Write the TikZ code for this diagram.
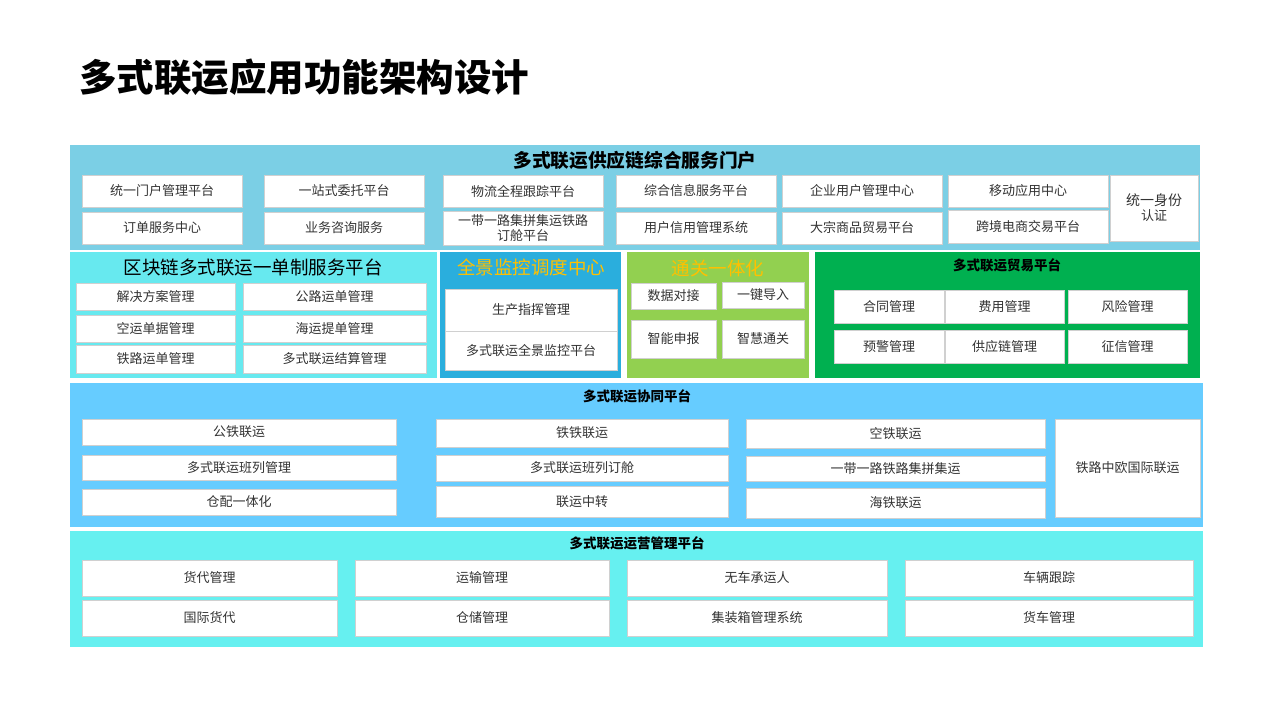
\documentclass[tikz,border=0pt]{standalone}
\usepackage{fontspec}
\setmainfont{Noto Sans CJK SC}
\usetikzlibrary{fit}
\definecolor{cTop}{HTML}{7BCFE5}
\definecolor{cChain}{HTML}{67E9EF}
\definecolor{cMon}{HTML}{2AAEDD}
\definecolor{cCus}{HTML}{92D050}
\definecolor{cTrade}{HTML}{00B050}
\definecolor{cCoop}{HTML}{66CCFF}
\definecolor{cOps}{HTML}{66F0F0}
\definecolor{cGold}{HTML}{FFC000}
\definecolor{cTxt}{HTML}{333333}
\definecolor{cEdge}{HTML}{D0D0D0}
\tikzset{
  panel/.style={inner sep=0pt, draw=none},
  wbox/.style={fill=white, draw=cEdge, line width=0.4pt, inner sep=0pt},
  btxt/.style={inner sep=0pt, text=cTxt, font=\fontsize{13}{15}\selectfont, align=center},
  ptitle/.style={font=\fontsize{13.5}{15}\selectfont\bfseries, text=black},
  btitle/.style={font=\fontsize{18.5}{21}\selectfont, text=black},
}
\newcommand\bx[6]{\node[wbox, fit={(#2,#3) (#4,#5)}] (#1) {};\node[btxt] (#1t) at (#1.center) {#6};}
\begin{document}
\begin{tikzpicture}[x=1pt,y=-1pt]
\useasboundingbox[fill=white] (0,0) rectangle (1280,720);
\node[anchor=west, inner sep=0pt, font=\fontsize{37.5}{40}\selectfont\bfseries] (title) at (79,77) {多式联运应用功能架构设计};

% top band
\node[panel, fill=cTop, fit={(70,145) (1200,250)}] (top) {};
\node[font=\fontsize{18.7}{21}\selectfont\bfseries] (topt) at (635,160) {多式联运供应链综合服务门户};
\bx{t1}{82}{175}{242}{207}{统一门户管理平台}
\bx{t2}{264}{175}{424}{207}{一站式委托平台}
\bx{t3}{443}{175}{603}{207}{物流全程跟踪平台}
\bx{t4}{616}{175}{776}{207}{综合信息服务平台}
\bx{t5}{782}{175}{942}{207}{企业用户管理中心}
\bx{t6}{948}{175}{1108}{207}{移动应用中心}
\bx{t7}{1110}{175}{1198}{241}{\fontsize{14}{16}\selectfont 统一身份\\认证}
\bx{b1}{82}{212}{242}{244}{订单服务中心}
\bx{b2}{264}{212}{424}{244}{业务咨询服务}
\bx{b3}{443}{211}{603}{245}{\fontsize{13}{14}\selectfont 一带一路集拼集运铁路\\订舱平台}
\bx{b4}{616}{212}{776}{244}{用户信用管理系统}
\bx{b5}{782}{212}{942}{244}{大宗商品贸易平台}
\bx{b6}{948}{210}{1108}{243}{跨境电商交易平台}

% chain panel
\node[panel, fill=cChain, fit={(70,252) (437,378)}] (chain) {};
\node[btitle] (chaint) at (253,268) {区块链多式联运一单制服务平台};
\bx{c1}{76}{283}{235}{310}{解决方案管理}
\bx{c2}{243}{283}{426}{310}{公路运单管理}
\bx{c3}{76}{315}{235}{342}{空运单据管理}
\bx{c4}{243}{315}{426}{342}{海运提单管理}
\bx{c5}{76}{345}{235}{373}{铁路运单管理}
\bx{c6}{243}{345}{426}{373}{多式联运结算管理}

% monitoring
\node[panel, fill=cMon, fit={(440,252) (621,378)}] (mon) {};
\node[btitle, text=cGold] (mont) at (531,267) {全景监控调度中心};
\bx{m1}{445}{289}{617}{331}{生产指挥管理}
\bx{m2}{445}{331}{617}{370}{多式联运全景监控平台}

% customs
\node[panel, fill=cCus, fit={(627,252) (809,378)}] (cus) {};
\node[btitle, text=cGold] (cust) at (718,268) {通关一体化};
\bx{u1}{631}{283}{716}{309}{数据对接}
\bx{u2}{722}{282}{804}{308}{一键导入}
\bx{u3}{631}{320}{716}{358}{智能申报}
\bx{u4}{722}{320}{804}{358}{智慧通关}

% trade
\node[panel, fill=cTrade, fit={(815,252) (1200,378)}] (trade) {};
\node[ptitle] (tradet) at (1007,265) {多式联运贸易平台};
\bx{r1}{834}{290}{944}{323}{合同管理}
\bx{r2}{945}{290}{1064}{323}{费用管理}
\bx{r3}{1068}{290}{1187}{323}{风险管理}
\bx{r4}{834}{330}{944}{363}{预警管理}
\bx{r5}{945}{330}{1064}{363}{供应链管理}
\bx{r6}{1068}{330}{1187}{363}{征信管理}

% cooperation
\node[panel, fill=cCoop, fit={(70,383) (1203,527)}] (coop) {};
\node[ptitle] (coopt) at (637,396) {多式联运协同平台};
\bx{p1}{82}{419}{396}{445}{公铁联运}
\bx{p2}{82}{455}{396}{480}{多式联运班列管理}
\bx{p3}{82}{489}{396}{515}{仓配一体化}
\bx{p4}{436}{419}{728}{447}{铁铁联运}
\bx{p5}{436}{455}{728}{481}{多式联运班列订舱}
\bx{p6}{436}{486}{728}{517}{联运中转}
\bx{p7}{746}{419}{1045}{448}{空铁联运}
\bx{p8}{746}{456}{1045}{481}{一带一路铁路集拼集运}
\bx{p9}{746}{488}{1045}{518}{海铁联运}
\bx{p10}{1055}{419}{1200}{517}{铁路中欧国际联运}

% operations
\node[panel, fill=cOps, fit={(70,531) (1203,647)}] (ops) {};
\node[ptitle] (opst) at (637,543) {多式联运运营管理平台};
\bx{o1}{82}{560}{337}{596}{货代管理}
\bx{o2}{355}{560}{609}{596}{运输管理}
\bx{o3}{627}{560}{887}{596}{无车承运人}
\bx{o4}{905}{560}{1193}{596}{车辆跟踪}
\bx{o5}{82}{600}{337}{636}{国际货代}
\bx{o6}{355}{600}{609}{636}{仓储管理}
\bx{o7}{627}{600}{887}{636}{集装箱管理系统}
\bx{o8}{905}{600}{1193}{636}{货车管理}
\end{tikzpicture}
\end{document}
